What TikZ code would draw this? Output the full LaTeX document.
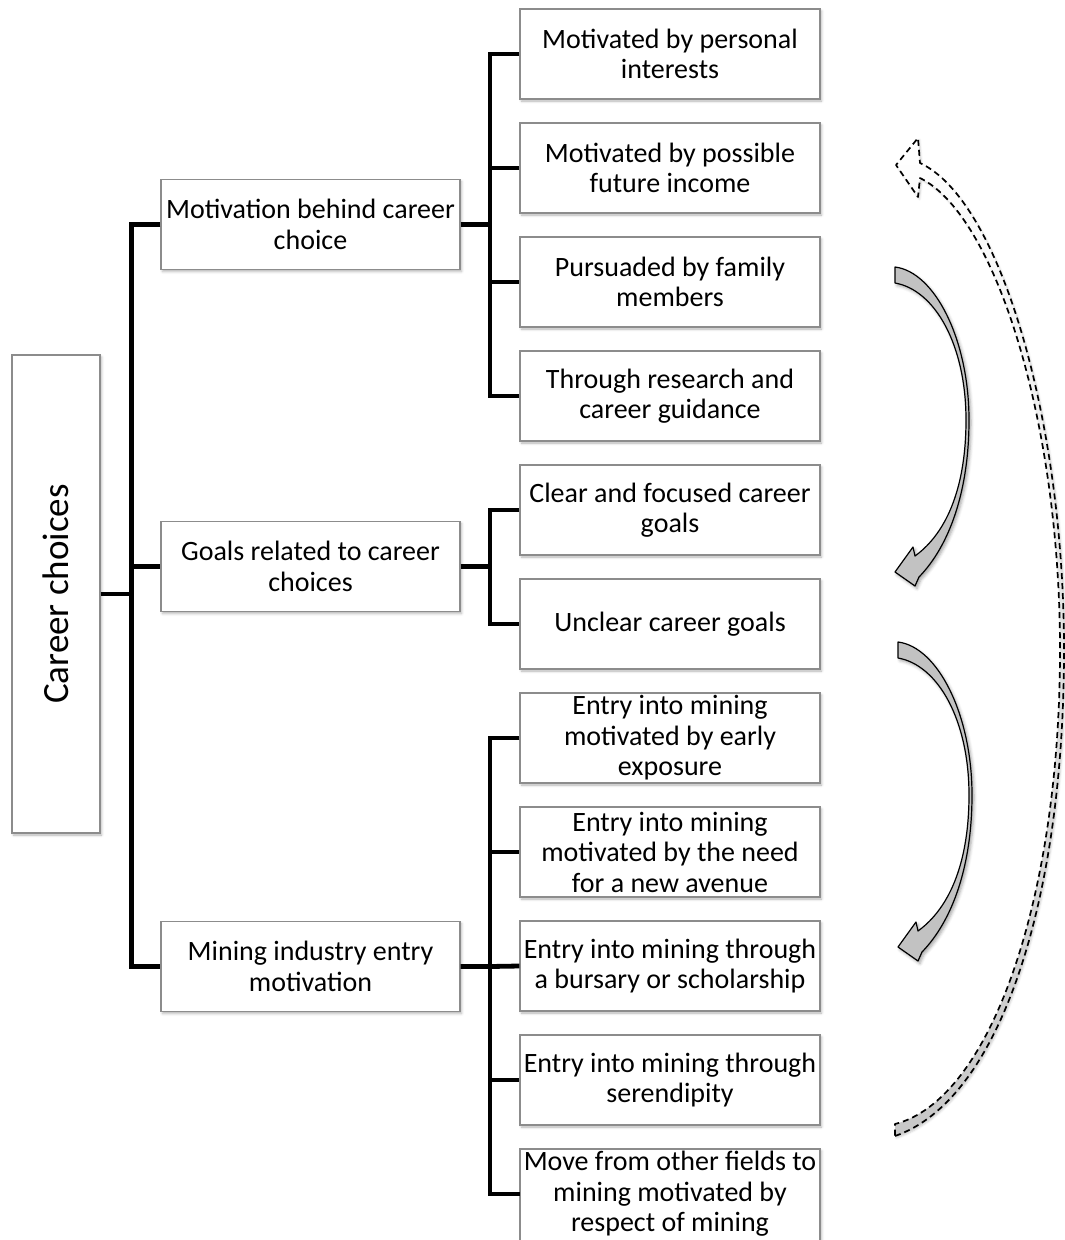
\documentclass[tikz,border=0pt]{standalone}
\usepackage{fontspec}
\setmainfont{Carlito}
\usepackage{graphicx}
\usetikzlibrary{shadows.blur}

\begin{document}
\begin{tikzpicture}[x=1pt,y=-1pt,
  soft shadow/.style={blur shadow={shadow xshift=1.5pt,shadow yshift=-2pt,
      shadow blur radius=2.5pt,shadow opacity=30}},
  frame/.style={draw=black!45,line width=1.1pt,fill=white,soft shadow},
  box/.style={frame,minimum width=300pt,minimum height=90pt,inner sep=0pt,
      align=center,font=\fontsize{28}{30.5}\selectfont},
  label only/.style={minimum width=300pt,minimum height=90pt,inner sep=0pt,
      align=center,font=\fontsize{28}{30.5}\selectfont},
  conn/.style={line width=4.8pt,line join=miter},
  bend arrow/.style={fill=black!24,draw=black,line width=1.2pt,line join=round,
      blur shadow={shadow xshift=2pt,shadow yshift=-2.5pt,
      shadow blur radius=3pt,shadow opacity=35}},
  dash arrow/.style={draw=black,dash pattern=on 6pt off 4pt,line width=1.7pt,
      line join=round,top color=white,middle color=white,bottom color=black!22}]

\clip (0,0) rectangle (1065,1240);

% root
\node[box,minimum width=88pt,minimum height=478pt,
      font=\fontsize{37}{40}\selectfont] (root) at (56,594)
      {\rotatebox{90}{Career choices}};

% first level
\node[box,minimum width=299pt] (l1a) at (310.5,224.5) {Motivation behind career\\choice};
\node[box,minimum width=299pt] (l1b) at (310.5,566.5) {Goals related to career\\choices};
\node[box,minimum width=299pt] (l1c) at (310.5,966.5) {Mining industry entry\\motivation};

% second level
\node[box] (l2a) at (670,54)   {Motivated by personal\\interests};
\node[box] (l2b) at (670,168)  {Motivated by possible\\future income};
\node[box] (l2c) at (670,282)  {Pursuaded by family\\members};
\node[box] (l2d) at (670,396)  {Through research and\\career guidance};
\node[box] (l2e) at (670,510)  {Clear and focused career\\goals};
\node[box] (l2f) at (670,624)  {Unclear career goals};
\node[box] (l2g) at (670,738)  {Entry into mining\\motivated by early\\exposure};
\node[box] (l2h) at (670,852)  {Entry into mining\\motivated by the need\\for a new avenue};
\node[box] (l2i) at (670,966)  {Entry into mining through\\a bursary or scholarship};
\node[box] (l2j) at (670,1080) {Entry into mining through\\serendipity};
% last box runs past the lower edge of the page
\node[frame,minimum width=300pt,minimum height=120pt,inner sep=0pt] (l2kbox) at (670,1209) {};
\node[label only] (l2k) at (670,1194)
      {Move from other fields to\\mining motivated by\\respect of mining};

% connectors
\coordinate (t0) at (131.5,594);
\coordinate (b1) at (490,224.5);
\coordinate (b2) at (490,566.5);
\coordinate (b3) at (490,966.5);

\draw[conn] (root.east) -- (t0);
\draw[conn] (l1a.west) -| (t0) |- (l1c.west);
\draw[conn] (t0) |- (l1b.west);

\draw[conn] (l1a.east) -- (b1);
\draw[conn] (l2a.west) -| (b1) |- (l2d.west);
\draw[conn] (b1) |- (l2b.west);
\draw[conn] (b1) |- (l2c.west);

\draw[conn] (l1b.east) -- (b2);
\draw[conn] (l2e.west) -| (b2) |- (l2f.west);

\draw[conn] (l1c.east) -- (b3) -- (l2i.west);
\draw[conn] (l2g.west) -| (b3) |- (l2k.west);
\draw[conn] (b3) |- (l2h.west);
\draw[conn] (b3) |- (l2j.west);

% curved grey arrows
\newcommand\curvedgrey{%
  \path[bend arrow] (895,267) .. controls (935,272) and (969,340) .. (969,420)
    .. controls (969,490) and (950,545) .. (919,577)
    -- (915,586) -- (895,572) -- (913,547) -- (915,556)
    .. controls (948,532) and (966,485) .. (966,420)
    .. controls (966,345) and (935,290) .. (895,283) -- cycle;}
\curvedgrey
\begin{scope}[shift={(3,375)}]
  \curvedgrey
\end{scope}

% long dashed arrow
\path[dash arrow,blur shadow={shadow xshift=1.5pt,shadow yshift=-2pt,
      shadow blur radius=2pt,shadow opacity=20}]
  (895,1136) .. controls (1000,1100) and (1064,900) .. (1064,650)
  .. controls (1064,420) and (1000,200) .. (920,163)
  -- (918,138) -- (896,165) -- (918,197) -- (920,178)
  .. controls (995,215) and (1060,420) .. (1060,650)
  .. controls (1060,900) and (990,1100) .. (895,1124) -- cycle;

\end{tikzpicture}
\end{document}
